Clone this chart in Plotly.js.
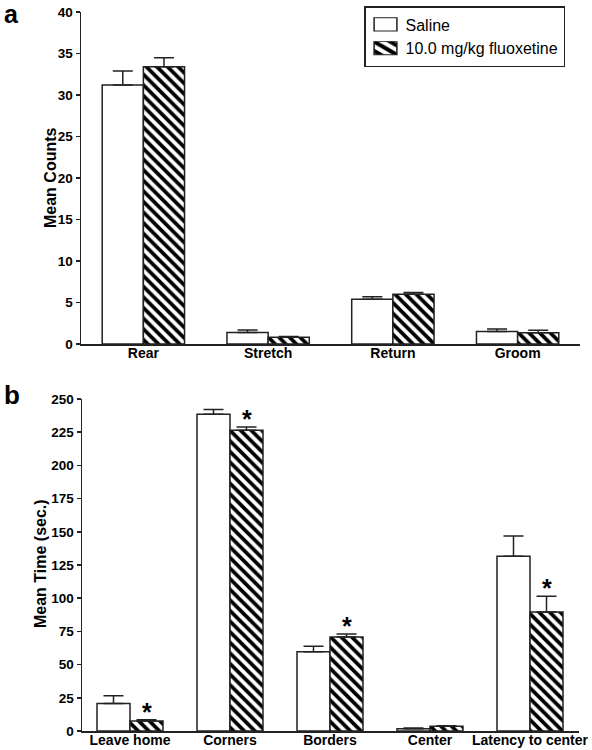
<!DOCTYPE html>
<html>
<head>
<meta charset="utf-8">
<script src="https://cdn.plot.ly/plotly-3.0.1.min.js"></script>
<style>
  html, body { margin: 0; padding: 0; background: #fff; }
  #chart { width: 592px; height: 750px; }
</style>
</head>
<body>
<div id="chart"></div>
<script>
// ---- Panel a data ----
const catsA = ['Rear', 'Stretch', 'Return', 'Groom'];
const salineA = [31.2, 1.4, 5.4, 1.5];
const salineErrA = [1.7, 0.3, 0.3, 0.3];
const fluoxA = [33.4, 0.8, 6.0, 1.35];
const fluoxErrA = [1.1, 0.1, 0.2, 0.3];

// ---- Panel b data ----
const catsB = ['Leave home', 'Corners', 'Borders', 'Center', 'Latency to center'];
const salineB = [20.8, 238.5, 59.7, 1.7, 131.5];
const salineErrB = [5.8, 3.5, 4.1, 0.5, 15.3];
const fluoxB = [7.5, 226.4, 70.8, 3.5, 89.6];
const fluoxErrB = [1.0, 2.6, 2.2, 0.5, 11.8];
const sigB = [true, true, true, false, true];

const seriesNames = ['Saline', '10.0 mg/kg fluoxetine'];
const yTicksA = [0, 5, 10, 15, 20, 25, 30, 35, 40];
const yTicksB = [0, 25, 50, 75, 100, 125, 150, 175, 200, 225, 250];

const FONT = "'Liberation Sans', Arial, Helvetica, sans-serif";
const INK = '#222';
const bold = s => '<b>' + s + '</b>';

function barTrace(x, y, err, name, hatched, xa, ya, showlegend) {
  const t = {
    type: 'bar', x: x, y: y, name: name, xaxis: xa, yaxis: ya,
    showlegend: showlegend, legendgroup: name,
    marker: {
      color: '#ffffff',
      line: { color: INK, width: 1.5 }
    },
    error_y: {
      type: 'data', array: err, symmetric: false,
      arrayminus: err.map(() => 0),
      color: INK, thickness: 1.5, width: 10
    },
    hoverinfo: 'x+y'
  };
  if (hatched) {
    t.marker.pattern = { shape: '\\', size: 7.5, solidity: 0.5, fgcolor: '#000000', bgcolor: '#ffffff' };
  }
  return t;
}

const data = [
  barTrace(catsA, salineA, salineErrA, seriesNames[0], false, 'x', 'y', true),
  barTrace(catsA, fluoxA, fluoxErrA, seriesNames[1], true, 'x', 'y', true),
  barTrace(catsB, salineB, salineErrB, seriesNames[0], false, 'x2', 'y2', false),
  barTrace(catsB, fluoxB, fluoxErrB, seriesNames[1], true, 'x2', 'y2', false)
];

const W = 592, H = 750;
const axisCommonY = {
  showline: true, linecolor: INK, linewidth: 1.5,
  ticks: 'outside', ticklen: 4, tickwidth: 1.5, tickcolor: INK,
  showgrid: false, zeroline: false,
  tickfont: { family: FONT, size: 13.5, color: '#000' },
  fixedrange: true
};
const axisCommonX = {
  type: 'category',
  showline: true, linecolor: INK, linewidth: 1.5,
  ticks: '', showgrid: false, zeroline: false,
  ticklabelstandoff: -4,
  tickfont: { family: FONT, size: 14, color: '#000' },
  fixedrange: true
};

// significance asterisks above fluoxetine bars in panel b
const annotations = [];
catsB.forEach((c, i) => {
  if (sigB[i]) {
    annotations.push({
      xref: 'x2', yref: 'y2', x: c, y: fluoxB[i] + fluoxErrB[i],
      xshift: 17, yshift: -8, yanchor: 'bottom', xanchor: 'center',
      text: bold('*'), showarrow: false,
      font: { family: FONT, size: 25, color: '#000' }
    });
  }
});
// axis titles
annotations.push({
  xref: 'paper', yref: 'paper', x: 50 / W, y: 1 - 178 / H,
  text: bold('Mean Counts'), textangle: -90, showarrow: false,
  xanchor: 'center', yanchor: 'middle',
  font: { family: FONT, size: 16, color: '#000' }
});
annotations.push({
  xref: 'paper', yref: 'paper', x: 40 / W, y: 1 - 564 / H,
  text: bold('Mean Time (sec.)'), textangle: -90, showarrow: false,
  xanchor: 'center', yanchor: 'middle',
  font: { family: FONT, size: 16, color: '#000' }
});
// panel letters
annotations.push({
  xref: 'paper', yref: 'paper', x: 2 / W, y: 1, yshift: 2,
  text: bold('a'), showarrow: false, xanchor: 'left', yanchor: 'top',
  font: { family: FONT, size: 25, color: '#000' }
});
annotations.push({
  xref: 'paper', yref: 'paper', x: 2 / W, y: 1 - 378 / H,
  text: bold('b'), showarrow: false, xanchor: 'left', yanchor: 'top',
  font: { family: FONT, size: 26, color: '#000' }
});

const layout = {
  width: W, height: H,
  margin: { l: 0, r: 0, t: 0, b: 0 },
  paper_bgcolor: '#ffffff', plot_bgcolor: '#ffffff',
  font: { family: FONT, color: '#000' },
  barmode: 'group', bargap: 0.34, bargroupgap: 0,
  xaxis: Object.assign({}, axisCommonX, {
    domain: [81 / W, 580 / W], range: [-0.5, 3.5], anchor: 'y',
    tickvals: catsA, ticktext: catsA.map(bold)
  }),
  yaxis: Object.assign({}, axisCommonY, {
    domain: [1 - 344 / H, 1 - 12 / H], range: [0, 40],
    tickvals: yTicksA, ticktext: yTicksA.map(v => bold(String(v))), anchor: 'x'
  }),
  xaxis2: Object.assign({}, axisCommonX, {
    domain: [82 / W, 579 / W], range: [-0.48, 4.49], anchor: 'y2',
    tickvals: catsB, ticktext: catsB.map(bold)
  }),
  yaxis2: Object.assign({}, axisCommonY, {
    domain: [1 - 731 / H, 1 - 399 / H], range: [0, 250],
    tickvals: yTicksB, ticktext: yTicksB.map(v => bold(String(v))), anchor: 'x2'
  }),
  showlegend: true,
  legend: {
    x: 364 / W, y: 1 - 6 / H, xanchor: 'left', yanchor: 'top',
    bgcolor: '#ffffff', bordercolor: INK, borderwidth: 1.5,
    font: { family: FONT, size: 16, color: '#000' },
    tracegroupgap: 0, itemclick: false, itemdoubleclick: false
  },
  annotations: annotations
};

Plotly.newPlot('chart', data, layout, { displayModeBar: false, staticPlot: true }).then(gd => {
  // widen legend swatches to match the reference's rectangular keys
  gd.querySelectorAll('.legend .legendpoints path').forEach(p => {
    const old = p.getAttribute('transform') || '';
    p.setAttribute('transform', old + ' scale(1.9,1.1)');
    p.style.strokeWidth = '0.8px';
  });
});
</script>
</body>
</html>
